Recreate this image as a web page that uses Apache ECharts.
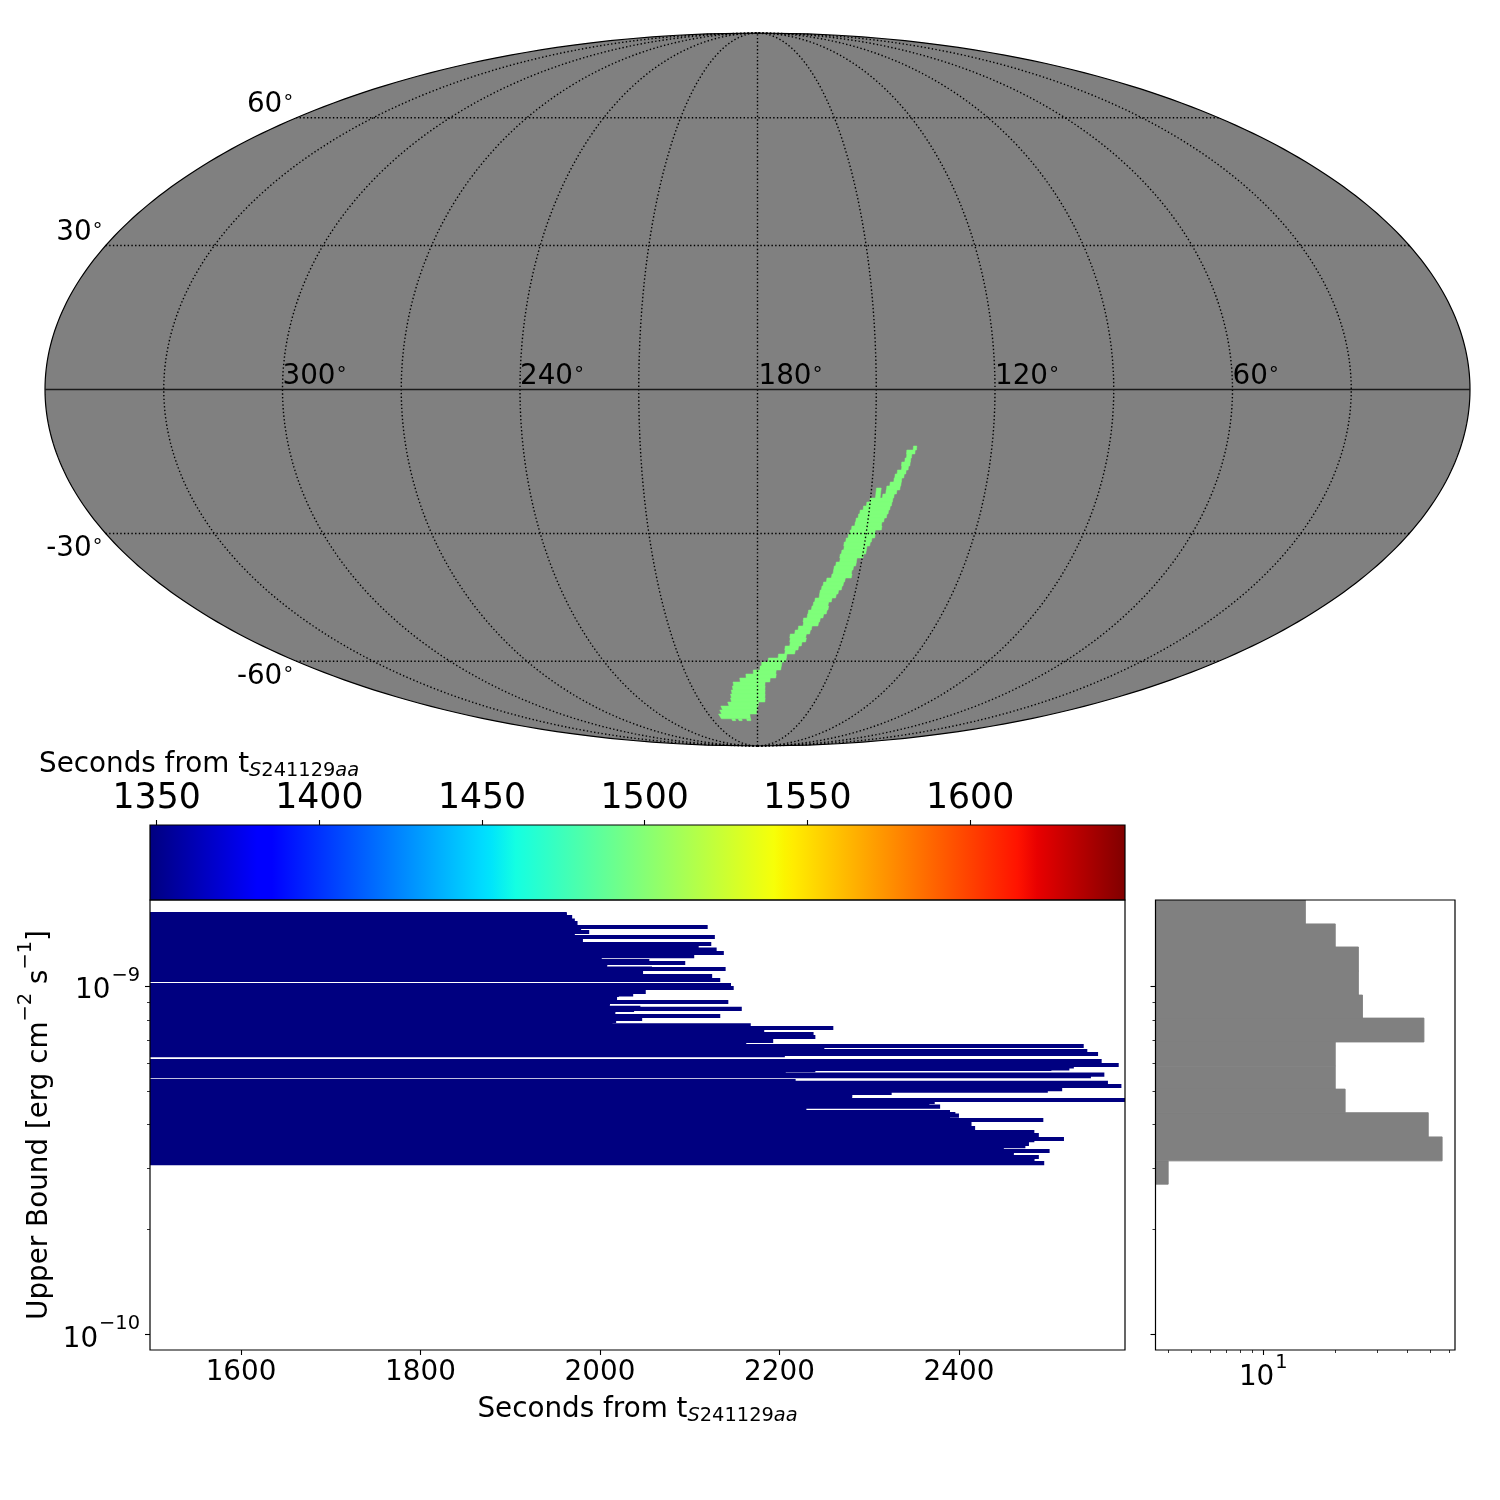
<!DOCTYPE html>
<html><head><meta charset="utf-8"><style>html,body{margin:0;background:#fff}#c{width:1500px;height:1500px}</style>
<script src="https://cdn.jsdelivr.net/npm/echarts@6/dist/echarts.min.js"></script></head>
<body><div id="c"></div><script>
// ---- sky map data (degrees) ----
const skyMeridians=[30,60,90,120,150,180,210,240,270,300,330];
const skyParallels=[-60,-30,30,60];
const skyRaLabels=[300,240,180,120,60];
const skyDecLabels=[60,30,-30,-60];
const skyDecTop=[-11.59,-12.42,-13.24,-14.07,-14.90,-15.73,-16.56,-17.39,-18.23,-19.06,-19.90,-20.74,-21.58,-22.42,-23.27,-24.11,-24.96,-25.81,-26.67,-27.52,
-28.38,-29.24,-30.10,-30.97,-31.84,-32.71,-33.59,-34.47,-35.35,-36.24,-37.13,-38.02,-38.92,-39.82,-40.73,-41.64,-42.56,-43.48,-44.40,-45.34,
-46.27,-47.22,-48.17,-49.12,-50.09,-51.06,-52.04,-53.02,-54.02,-55.02,-56.03,-57.06,-58.09,-59.13,-60.19,-61.26,-62.34,-63.43,-64.54,-65.67,
-66.82,-67.98,-69.17,-70.37,-71.61,-72.87,-74.17,-75.50,-77.15,-77.15,-77.15,-20.32];
const skyDecBottom=[-12.42,-13.24,-14.07,-14.90,-15.73,-16.56,-17.39,-18.23,-19.06,-19.90,-20.74,-21.58,-22.42,-23.27,-24.11,-24.96,-25.81,-26.67,-27.52,-28.38,
-29.24,-30.10,-30.97,-31.84,-32.71,-33.59,-34.47,-35.35,-36.24,-37.13,-38.02,-38.92,-39.82,-40.73,-41.64,-42.56,-43.48,-44.40,-45.34,-46.27,
-47.22,-48.17,-49.12,-50.09,-51.06,-52.04,-53.02,-54.02,-55.02,-56.03,-57.06,-58.09,-59.13,-60.19,-61.26,-62.34,-63.43,-64.54,-65.67,-66.82,
-67.98,-69.17,-70.37,-71.61,-72.87,-74.17,-75.50,-77.15,-77.82,-77.82,-77.82,-22.42];
const skyRaEast=[140.09,141.72,141.64,141.99,142.76,142.66,143.69,144.19,144.35,145.28,146.05,146.11,146.87,150.11,150.88,151.65,152.43,152.75,153.26,153.40,
154.18,154.51,154.83,155.34,155.75,155.60,156.11,156.43,156.27,157.26,157.67,157.70,158.01,159.33,160.15,160.48,160.82,160.84,162.00,162.34,
162.68,163.56,163.70,164.82,164.63,166.12,167.08,168.63,168.46,168.28,169.91,169.73,172.08,175.80,178.35,178.99,181.73,184.88,187.63,190.83,
191.47,192.33,193.11,193.63,195.65,200.15,201.83,203.76,197.00,192.61,187.13,148.72];
const skyRaWest=[139.24,139.58,140.36,140.53,140.60,140.94,141.44,141.85,142.35,142.40,142.54,143.29,143.87,144.08,144.21,144.51,144.80,145.10,145.66,146.13,
145.96,147.62,147.44,148.18,148.46,149.21,149.20,149.76,151.47,151.46,152.03,152.31,152.09,153.85,154.13,154.40,155.19,155.67,156.78,157.60,
157.35,157.64,158.46,159.30,159.60,161.59,161.91,163.04,162.78,164.07,165.02,166.00,168.91,168.95,170.43,170.49,172.34,172.15,174.55,176.64,
176.53,176.42,176.29,176.14,179.55,180.09,180.49,184.67,194.80,190.42,184.50,147.48];
// ---- upper bound data (erg cm^-2 s^-1, in units of 1e-9; end time in s) ----
const upperBoundsE9=[1.6092,1.5986,1.5776,1.5415,1.5163,1.4767,1.4506,1.4287,1.4053,1.3823,1.3552,1.3198,1.2982,1.2710,1.2436,1.2176,1.1796,1.1641,1.1572,1.1226,
1.1189,1.0926,1.0683,1.0404,1.0066,0.9869,0.9611,0.9454,0.9423,0.9262,0.8997,0.8938,0.8659,0.8596,0.8534,0.8449,0.8202,0.8041,0.7988,0.7925,
0.7713,0.7577,0.7443,0.7282,0.7139,0.6953,0.6727,0.6617,0.6509,0.6381,0.6330,0.6092,0.5934,0.5875,0.5798,0.5779,0.5733,0.5565,0.5510,0.5338,
0.5272,0.5165,0.5057,0.5010,0.4935,0.4860,0.4709,0.4647,0.4505,0.4466,0.4350,0.4293,0.4247,0.4126,0.4099,0.4018,0.3913,0.3811,0.3736,0.3639,
0.3615,0.3521,0.3474,0.3452,0.3362,0.3326,0.3231,0.3197,0.3105,
1.2063,1.1421,0.9183,0.8850,0.8376,0.7805,0.6885,0.5684,0.4809,0.4601,0.4208,0.3296,0.3168];
const endSeconds=[1963,1963,1969,1972,1975,2120,1979,1988,1972,2128,1981,2124,2110,2130,2138,2105,2055,2095,2008,2058,2140,2048,2125,2134,2146,2149,2051,
2037,2021,2019,2143,2011,2045,2158,2038,2017,2134,2047,2014,2018,2168,2260,2183,2238,2240,2193,2539,2250,2543,2555,2206,2559,2578,2528,
2523,2503,2240,2562,2547,2218,2566,2581,2515,2499,2325,2281,2593,2373,2379,2230,2390,2396,2400,2494,2403,2414,2418,2484,2489,2517,2484,
2478,2474,2450,2501,2461,2489,2484,2495,
2002,2008,2019,2011,2017,2014,2163,2207,2281,2367,2390,2461,2484];
// ---- histogram of upper bounds ----
const histEdgesE9=[0.270,0.315,0.369,0.433,0.506,0.589,0.691,0.809,0.942,1.104,1.294,1.507,1.765];
const histCounts=[4,56,49,22,20,20,47,26,25,25,20,15];
// ---- axis ticks ----
const colorbarTicks=[1350,1400,1450,1500,1550,1600];
const timeTicks=[1600,1800,2000,2200,2400];
const boundMajorTicks=[1e-10,1e-9];
const boundMinorTicks=[2e-10,3e-10,4e-10,5e-10,6e-10,7e-10,8e-10,9e-10];
const countMajorTicks=[10];
const countMinorTicks=[4,5,6,7,8,9,20,30,40,50,60];
const jetStops=[[0,'#000080'],[0.11,'#0000ff'],[0.125,'#0000ff'],[0.34,'#00dbff'],[0.35,'#00e5fb'],[0.375,'#14ffe2'],[0.64,'#f7ff08'],[0.65,'#fbf500'],[0.66,'#ffec00'],[0.89,'#ff1300'],[0.91,'#e80000'],[1,'#800000']];

const FONT='DejaVu Sans', SZ=27.8, SUB=19.4, BIG=34.7, GRAY='#808080', NAVY='#000080', GREEN='#7fff7a';
const X_MIN=1498.6,X_MAX=2585,Y_MIN=9.03e-11,Y_MAX=1.765e-9,CB_MIN=1347.95,CB_MAX=1647.6,C_MIN=3.54,C_MAX=63.4;

function mollweide(ra,dec){
  const phi=dec*Math.PI/180,lam=(180-ra)*Math.PI/180;
  let t=phi;
  if(Math.abs(dec)>=90){t=Math.sign(dec)*Math.PI/2}
  else{for(let i=0;i<60;i++){const d=(2*t+Math.sin(2*t)-Math.PI*Math.sin(phi))/(2+2*Math.cos(2*t));t-=d;if(Math.abs(d)<1e-9)break}}
  return [2*Math.SQRT2/Math.PI*lam*Math.cos(t),Math.SQRT2*Math.sin(t)];
}
const r2=Math.SQRT2;
function curve(fn,a,b,step){const o=[];for(let v=a;step>0?v<=b:v>=b;v+=step)o.push(fn(v));return o}
const outline=curve(d=>mollweide(0,d),-90,90,1).concat(curve(d=>mollweide(360,d),90,-90,-1));
const graticule=[];
skyMeridians.forEach(ra=>graticule.push(curve(d=>mollweide(ra,d),-90,90,1)));
skyParallels.forEach(dec=>graticule.push(curve(r=>mollweide(r,dec),0,360,2)));
const equator=curve(r=>mollweide(r,0),0,360,4);

const lineSeries=(pts,style)=>({type:'line',xAxisIndex:0,yAxisIndex:0,data:pts,showSymbol:false,silent:true,lineStyle:style,z:5,animation:false,clip:false});
const frame=i=>({type:'custom',xAxisIndex:i,yAxisIndex:i,coordinateSystem:'cartesian2d',data:[[0]],silent:true,z:20,clip:false,
  renderItem:(p)=>{const c=p.coordSys;return {type:'rect',shape:{x:c.x,y:c.y,width:c.width,height:c.height},style:{fill:'none',stroke:'#000',lineWidth:1.2}}}});

const supRich={b:{fontSize:SZ,fontFamily:FONT,color:'#000',lineHeight:46,verticalAlign:'bottom',padding:[0,0,4,0]},
  s:{fontSize:SUB,fontFamily:FONT,color:'#000',verticalAlign:'top',padding:[3,0,0,1]}};
const powLabel=v=>{const e=Math.round(Math.log10(v));return '{b|10}{s|'+(e<0?'\u2212':'')+Math.abs(e)+'}'};
const titleRich={a:{fontSize:SZ,fontFamily:FONT,color:'#000',lineHeight:38},
  i:{fontSize:SUB,fontFamily:FONT,fontStyle:'italic',color:'#000',verticalAlign:'bottom',padding:[0,0,4,0]},
  n:{fontSize:SUB,fontFamily:FONT,color:'#000',verticalAlign:'bottom',padding:[0,0,4,0]}};
const timeName='{a|Seconds from t}{i|S}{n|241129}{i|aa}';
const ylabRich={a:{fontSize:SZ,fontFamily:FONT,color:'#000',lineHeight:44,verticalAlign:'bottom',padding:[0,0,3,0]},
  s:{fontSize:SUB,fontFamily:FONT,color:'#000',verticalAlign:'top',padding:[3,0,0,0]}};
const skyRich={a:{fontSize:SZ,fontFamily:FONT,color:'#000',lineHeight:33},c:{fontSize:SUB,fontFamily:FONT,color:'#000',verticalAlign:'top',padding:[0,0,0,0]}};

const tick=(len,w,vals)=>({show:true,length:len,customValues:vals,lineStyle:{color:'#000',width:w},inside:false});
const hide={show:false};
const noLine={show:false,onZero:false};
const plain=v=>String(v);

const option={
  animation:false,
  textStyle:{fontFamily:FONT},
  grid:[
    {left:45,top:33,width:1425,height:713},
    {left:150,top:825,width:975,height:75},
    {left:150,top:900,width:975,height:450},
    {left:1155.5,top:900,width:299.5,height:450}
  ],
  xAxis:[
    {gridIndex:0,type:'value',min:-2*r2,max:2*r2,show:false},
    {gridIndex:1,type:'value',min:CB_MIN,max:CB_MAX,position:'top',splitLine:hide,axisLine:noLine,
      axisTick:tick(5,1.1,colorbarTicks),axisLabel:{customValues:colorbarTicks,formatter:plain,fontSize:BIG,fontFamily:FONT,color:'#000',margin:9,hideOverlap:false}},
    {gridIndex:2,type:'value',min:X_MIN,max:X_MAX,position:'bottom',splitLine:hide,axisLine:noLine,
      axisTick:tick(5,1.1,timeTicks),axisLabel:{customValues:timeTicks,formatter:plain,fontSize:SZ,fontFamily:FONT,color:'#000',margin:9},
      name:timeName,nameLocation:'middle',nameGap:41,nameTextStyle:{rich:titleRich}},
    {gridIndex:3,type:'log',logBase:10,min:C_MIN,max:C_MAX,position:'bottom',splitLine:hide,axisLine:noLine,
      axisTick:tick(5,1.1,countMajorTicks),
      axisLabel:{customValues:countMajorTicks,formatter:powLabel,rich:supRich,margin:0}},
    {gridIndex:3,type:'log',logBase:10,min:C_MIN,max:C_MAX,position:'bottom',splitLine:hide,axisLine:noLine,
      axisTick:tick(3,0.8,countMinorTicks),axisLabel:hide}
  ],
  yAxis:[
    {gridIndex:0,type:'value',min:-r2,max:r2,show:false},
    {gridIndex:1,type:'value',min:0,max:1,show:false},
    {gridIndex:2,type:'log',logBase:10,min:Y_MIN,max:Y_MAX,position:'left',splitLine:hide,axisLine:noLine,
      axisTick:tick(5,1.1,boundMajorTicks),
      axisLabel:{customValues:boundMajorTicks,formatter:powLabel,rich:supRich,margin:10},
      name:'{a|Upper Bound [erg cm}{s|\u22122}{a| s}{s|\u22121}{a|]}',nameLocation:'middle',nameRotate:90,nameGap:93,nameMoveOverlap:false,nameTextStyle:{rich:ylabRich}},
    {gridIndex:3,type:'log',logBase:10,min:Y_MIN,max:Y_MAX,position:'left',splitLine:hide,axisLine:noLine,
      axisTick:tick(5,1.1,boundMajorTicks),axisLabel:hide},
    {gridIndex:2,type:'log',logBase:10,min:Y_MIN,max:Y_MAX,position:'left',splitLine:hide,axisLine:noLine,
      axisTick:tick(3,0.8,boundMinorTicks),axisLabel:hide},
    {gridIndex:3,type:'log',logBase:10,min:Y_MIN,max:Y_MAX,position:'left',splitLine:hide,axisLine:noLine,
      axisTick:tick(3,0.8,boundMinorTicks),axisLabel:hide}
  ],
  graphic:[{type:'text',left:39,top:751,style:{text:timeName,rich:titleRich,fill:'#000'}}],
  series:[
    // sky background
    {type:'custom',xAxisIndex:0,yAxisIndex:0,data:[[0,0]],silent:true,z:1,clip:false,
     renderItem:(p,api)=>({type:'polygon',shape:{points:outline.map(q=>api.coord(q))},style:{fill:GRAY,stroke:'#000',lineWidth:1.2}})},
    // credible region
    {type:'custom',xAxisIndex:0,yAxisIndex:0,silent:true,z:2,clip:false,
     data:skyDecTop.map((t,i)=>[t,skyDecBottom[i],skyRaEast[i],skyRaWest[i]]),
     renderItem:(p,api)=>{const t=api.value(0),b=api.value(1),e=api.value(2),w=api.value(3);
       return {type:'polygon',shape:{points:[[e,t],[w,t],[w,b],[e,b]].map(c=>api.coord(mollweide(c[0],c[1])))},style:{fill:GREEN,stroke:GREEN,lineWidth:0.5}}}},
    ...graticule.map(g=>lineSeries(g,{color:'#000',width:1.4,type:[1.4,2.3]})),
    lineSeries(equator,{color:'#1a1a1a',width:1.3,type:'solid'}),
    // meridian labels
    {type:'custom',xAxisIndex:0,yAxisIndex:0,silent:true,z:6,clip:false,data:skyRaLabels.map(r=>[r]),
     renderItem:(p,api)=>{const r=api.value(0),c=api.coord(mollweide(r,0));
       return {type:'text',style:{text:'{a|'+r+'}{c|\u2218}',rich:skyRich,x:c[0]+(r===180?1:0),y:c[1]+4,align:'left',verticalAlign:'bottom'}}}},
    // parallel labels
    {type:'custom',xAxisIndex:0,yAxisIndex:0,silent:true,z:6,clip:false,data:skyDecLabels.map(d=>[d]),
     renderItem:(p,api)=>{const d=api.value(0),c=api.coord(mollweide(360,d));
       return {type:'text',style:{text:'{a|'+d+'}{c|\u2218}',rich:skyRich,x:c[0]-2,y:c[1]+(d>0?4:-1),align:'right',verticalAlign:d>0?'bottom':'top'}}}},
    // colorbar
    {type:'custom',xAxisIndex:1,yAxisIndex:1,data:[[CB_MIN,CB_MAX]],silent:true,z:2,
     renderItem:(p,api)=>{const a=api.coord([api.value(0),1]),b=api.coord([api.value(1),0]);
       return {type:'rect',shape:{x:a[0],y:a[1],width:b[0]-a[0],height:b[1]-a[1]},
         style:{fill:new echarts.graphic.LinearGradient(0,0,1,0,jetStops.map(s=>({offset:s[0],color:s[1]})))}}}},
    // upper bound bars
    {type:'custom',xAxisIndex:2,yAxisIndex:2,silent:true,z:2,clip:true,
     data:upperBoundsE9.map((u,i)=>[endSeconds[i],u*1e-9]),
     renderItem:(p,api)=>{const e=api.coord([api.value(0),api.value(1)]),s=api.coord([X_MIN,api.value(1)]);
       const shape=echarts.graphic.clipRectByRect({x:s[0],y:s[1]-2.1,width:e[0]-s[0],height:4.2},p.coordSys);
       return shape&&{type:'rect',shape,style:{fill:NAVY}}}},
    // histogram
    {type:'custom',xAxisIndex:3,yAxisIndex:3,silent:true,z:2,clip:true,
     data:histCounts.map((n,i)=>[n,histEdgesE9[i]*1e-9,histEdgesE9[i+1]*1e-9]),
     renderItem:(p,api)=>{const a=api.coord([C_MIN,api.value(2)]),b=api.coord([api.value(0),api.value(1)]);
       return {type:'rect',shape:{x:a[0],y:a[1],width:b[0]-a[0],height:b[1]-a[1]},style:{fill:GRAY,stroke:GRAY,lineWidth:0.9}}}},
    frame(1),frame(2),frame(3),
    // keep minor-tick axes alive
    {type:'custom',xAxisIndex:4,yAxisIndex:3,data:[],renderItem:()=>null},
    {type:'custom',xAxisIndex:2,yAxisIndex:4,data:[],renderItem:()=>null},
    {type:'custom',xAxisIndex:3,yAxisIndex:5,data:[],renderItem:()=>null}
  ]
};
const chart=echarts.init(document.getElementById('c'),null,{renderer:'canvas',width:1500,height:1500});
chart.setOption(option);
</script></body></html>
